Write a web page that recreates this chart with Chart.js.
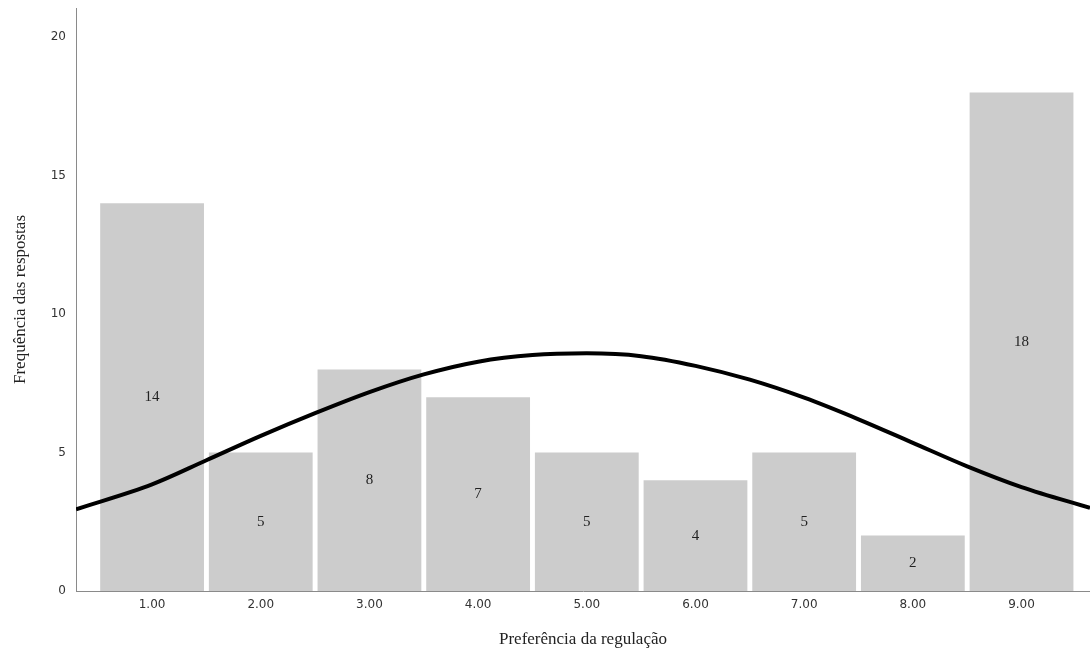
<!DOCTYPE html>
<html>
<head>
<meta charset="utf-8">
<script src="https://cdn.jsdelivr.net/npm/chart.js@4.4.0/dist/chart.umd.min.js"></script>
<style>
html,body{margin:0;padding:0;background:#fff;}
#wrap{width:1090px;height:655px;}
</style>
</head>
<body>
<div id="wrap"><canvas id="c" width="1090" height="655"></canvas></div>
<script>
// Histogram bins (preference values) and their frequencies
const binCenters = [1, 2, 3, 4, 5, 6, 7, 8, 9];
const binLabels = ['1.00','2.00','3.00','4.00','5.00','6.00','7.00','8.00','9.00'];
const frequencies = [14, 5, 8, 7, 5, 4, 5, 2, 18];
// Normal curve
const curveX = [0.3, 1, 1.5, 2, 2.5, 3, 3.5, 4, 4.5, 5, 5.5, 6, 6.5, 7, 7.5, 8, 8.5, 9, 9.63];
const curveY = [2.95, 3.85, 4.72, 5.6, 6.42, 7.18, 7.82, 8.28, 8.52, 8.58, 8.48, 8.13, 7.63, 6.98, 6.2, 5.35, 4.5, 3.75, 3.0];
const yTicks = [0, 5, 10, 15, 20];
const xTitle = 'Preferência da regulação';
const yTitle = 'Frequência das respostas';

const barData = binCenters.map((x, i) => ({x: x, y: frequencies[i]}));
const lineData = curveX.map((x, i) => ({x: x, y: curveY[i]}));

const labelPlugin = {
  id: 'barLabels',
  afterDatasetsDraw(chart) {
    const meta = chart.getDatasetMeta(1);
    const ctx = chart.ctx;
    ctx.save();
    ctx.font = '15px "Liberation Serif", "DejaVu Serif", serif';
    ctx.fillStyle = '#222';
    ctx.textAlign = 'center';
    ctx.textBaseline = 'middle';
    meta.data.forEach((el, i) => {
      ctx.fillText(String(frequencies[i]), el.x, (el.y + el.base) / 2);
    });
    ctx.restore();
  }
};

new Chart(document.getElementById('c'), {
  data: {
    datasets: [
      {
        type: 'line',
        data: lineData,
        borderColor: '#000',
        borderWidth: 4,
        pointRadius: 0,
        cubicInterpolationMode: 'monotone',
        fill: false,
        order: 0
      },
      {
        type: 'bar',
        data: barData,
        backgroundColor: '#cccccc',
        borderWidth: 0,
        barPercentage: 0.955,
        categoryPercentage: 1.0,
        order: 1
      }
    ]
  },
  options: {
    responsive: false,
    animation: false,
    layout: {padding: {top: 8, right: 0, left: 0, bottom: 0}},
    plugins: {legend: {display: false}, tooltip: {enabled: false}},
    scales: {
      x: {
        type: 'linear',
        offset: false,
        min: 0.3,
        max: 9.63,
        grid: {display: false, drawTicks: false},
        border: {display: true, color: '#8a8a8a', width: 1},
        afterBuildTicks: (s) => { s.ticks = binCenters.map(v => ({value: v})); },
        afterFit: (s) => { s.height = 64; s.paddingLeft = 0; s.paddingRight = 0; },
        ticks: {
          padding: 7,
          color: '#333',
          font: {family: '"DejaVu Sans", sans-serif', size: 12},
          maxRotation: 0,
          autoSkip: false,
          callback: (v) => { const i = binCenters.indexOf(v); return i >= 0 ? binLabels[i] : ''; }
        },
        title: {
          display: true,
          text: xTitle,
          color: '#222',
          font: {family: '"Liberation Serif", serif', size: 17},
          padding: {top: 0, bottom: 5}
        }
      },
      y: {
        type: 'linear',
        min: 0,
        max: 21.05,
        grid: {display: false, drawTicks: false},
        border: {display: true, color: '#8a8a8a', width: 1},
        afterBuildTicks: (s) => { s.ticks = yTicks.map(v => ({value: v})); },
        afterFit: (s) => { s.width = 76; s.paddingTop = 0; s.paddingBottom = 0; },
        ticks: {
          padding: 10,
          color: '#333',
          font: {family: '"DejaVu Sans", sans-serif', size: 12}
        },
        title: {
          display: true,
          text: yTitle,
          color: '#222',
          font: {family: '"Liberation Serif", serif', size: 17},
          padding: {top: 10, bottom: 0}
        }
      }
    }
  },
  plugins: [labelPlugin]
});
</script>
</body>
</html>
